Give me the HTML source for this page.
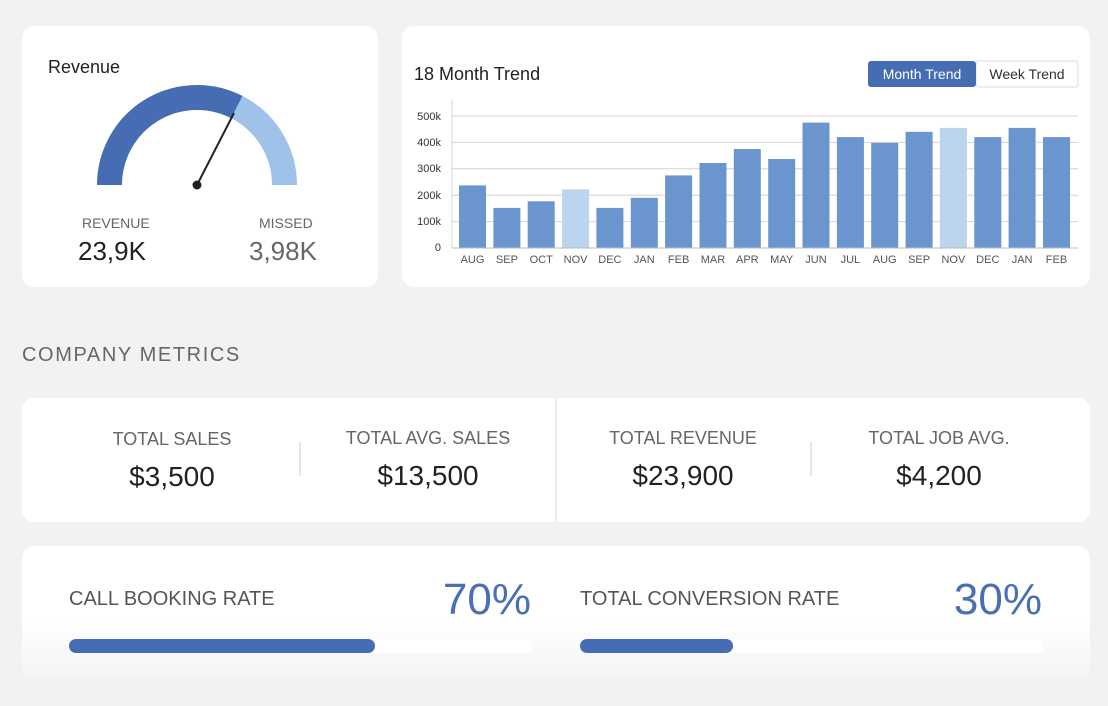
<!DOCTYPE html>
<html><head><meta charset="utf-8"><style>
html,body{margin:0;padding:0;background:#f2f2f2;}
svg{display:block;font-family:"Liberation Sans",sans-serif;}
</style></head><body>
<svg width="1108" height="706" viewBox="0 0 1108 706" xmlns="http://www.w3.org/2000/svg">
<defs>
<linearGradient id="bg" x1="0" y1="0" x2="0" y2="1">
<stop offset="0" stop-color="#ffffff"/><stop offset="0.55" stop-color="#ffffff"/><stop offset="1" stop-color="#f3f4f6"/>
</linearGradient>
</defs>
<rect width="1108" height="706" fill="#f2f2f2"/>
<!-- Revenue card -->
<rect x="22" y="26" width="356" height="261" rx="12" fill="#fff"/>
<text x="48" y="73" font-size="18" fill="#222">Revenue</text>
<path d="M109.5,185 A87.5,87.5 0 0 1 236.9,107.1" fill="none" stroke="#466db3" stroke-width="25"/>
<path d="M236.9,107.1 A87.5,87.5 0 0 1 284.5,185" fill="none" stroke="#9fc3e8" stroke-width="25"/>
<line x1="197" y1="185" x2="234" y2="113" stroke="#222" stroke-width="2"/>
<circle cx="197" cy="185" r="4.5" fill="#222"/>
<text x="82" y="228" font-size="14" fill="#666">REVENUE</text>
<text x="78" y="260" font-size="26" fill="#222">23,9K</text>
<text x="259" y="228" font-size="14" fill="#666">MISSED</text>
<text x="249" y="260" font-size="26" fill="#666">3,98K</text>
<!-- Trend card -->
<rect x="402" y="26" width="688" height="261" rx="12" fill="#fff"/>
<text x="414" y="80" font-size="18" fill="#222">18 Month Trend</text>
<rect x="976" y="61" width="102" height="26" rx="3" fill="#fff" stroke="#ddd"/>
<rect x="868" y="61" width="108" height="26" rx="3" fill="#466db3"/>
<text x="922" y="79" font-size="14" fill="#fff" text-anchor="middle">Month Trend</text>
<text x="1027" y="79" font-size="14" fill="#333" text-anchor="middle">Week Trend</text>
<g stroke="#d4d4d4" stroke-width="1">
<line x1="452" y1="116" x2="1078" y2="116"/><line x1="452" y1="142.4" x2="1078" y2="142.4"/>
<line x1="452" y1="168.8" x2="1078" y2="168.8"/><line x1="452" y1="195.2" x2="1078" y2="195.2"/>
<line x1="452" y1="221.6" x2="1078" y2="221.6"/><line x1="452" y1="100" x2="452" y2="248"/>
</g>
<g font-size="11" fill="#333" text-anchor="end">
<text x="441" y="120">500k</text><text x="441" y="146">400k</text><text x="441" y="172">300k</text>
<text x="441" y="199">200k</text><text x="441" y="225">100k</text><text x="441" y="251">0</text>
</g>
<g fill="#6b95cf">
<rect x="459" y="185.4" width="27" height="62.6"/>
<rect x="493.4" y="207.9" width="27" height="40.1"/>
<rect x="527.7" y="201.3" width="27" height="46.7"/>
<rect x="562.1" y="189.4" width="27" height="58.6" fill="#bcd5ef"/>
<rect x="596.4" y="207.9" width="27" height="40.1"/>
<rect x="630.8" y="197.8" width="27" height="50.2"/>
<rect x="665.1" y="175.4" width="27" height="72.6"/>
<rect x="699.5" y="163" width="27" height="85"/>
<rect x="733.8" y="149" width="27" height="99"/>
<rect x="768.2" y="159" width="27" height="89"/>
<rect x="802.5" y="122.6" width="27" height="125.4"/>
<rect x="836.9" y="137.1" width="27" height="110.9"/>
<rect x="871.2" y="142.9" width="27" height="105.1"/>
<rect x="905.6" y="131.8" width="27" height="116.2"/>
<rect x="939.9" y="127.9" width="27" height="120.1" fill="#bcd5ef"/>
<rect x="974.3" y="137.1" width="27" height="110.9"/>
<rect x="1008.6" y="127.9" width="27" height="120.1"/>
<rect x="1043" y="137.1" width="27" height="110.9"/>
</g>
<line x1="452" y1="248" x2="1078" y2="248" stroke="#bbb"/>
<g font-size="11" fill="#555" text-anchor="middle">
<text x="472.5" y="263">AUG</text><text x="506.9" y="263">SEP</text><text x="541.2" y="263">OCT</text>
<text x="575.6" y="263">NOV</text><text x="609.9" y="263">DEC</text><text x="644.3" y="263">JAN</text>
<text x="678.6" y="263">FEB</text><text x="713" y="263">MAR</text><text x="747.3" y="263">APR</text>
<text x="781.7" y="263">MAY</text><text x="816" y="263">JUN</text><text x="850.4" y="263">JUL</text>
<text x="884.7" y="263">AUG</text><text x="919.1" y="263">SEP</text><text x="953.4" y="263">NOV</text>
<text x="987.8" y="263">DEC</text><text x="1022.1" y="263">JAN</text><text x="1056.5" y="263">FEB</text>
</g>
<!-- Company metrics -->
<text x="22" y="361" font-size="20" fill="#666" letter-spacing="1.6">COMPANY METRICS</text>
<rect x="22" y="398" width="1068" height="124" rx="12" fill="#fff"/>
<line x1="556" y1="398" x2="556" y2="522" stroke="#ececec" stroke-width="2"/>
<line x1="300" y1="442" x2="300" y2="476" stroke="#ccc"/>
<line x1="811" y1="442" x2="811" y2="476" stroke="#ccc"/>
<g text-anchor="middle">
<g font-size="18" fill="#666">
<text x="172" y="445">TOTAL SALES</text><text x="428" y="444">TOTAL AVG. SALES</text>
<text x="683" y="444">TOTAL REVENUE</text><text x="939" y="444">TOTAL JOB AVG.</text>
</g>
<g font-size="28" fill="#222">
<text x="172" y="486">$3,500</text><text x="428" y="485">$13,500</text>
<text x="683" y="485">$23,900</text><text x="939" y="485">$4,200</text>
</g>
</g>
<!-- Rates -->
<rect x="22" y="546" width="1068" height="132" rx="12" fill="url(#bg)"/>
<text x="69" y="605" font-size="20" fill="#555">CALL BOOKING RATE</text>
<text x="531" y="614" font-size="44" fill="#4a6fb5" text-anchor="end">70%</text>
<text x="580" y="605" font-size="20" fill="#555">TOTAL CONVERSION RATE</text>
<text x="1042" y="614" font-size="44" fill="#4a6fb5" text-anchor="end">30%</text>
<rect x="69" y="639" width="463" height="14" rx="7" fill="#fff"/>
<rect x="69" y="639" width="306" height="14" rx="7" fill="#466db3"/>
<rect x="580" y="639" width="463" height="14" rx="7" fill="#fff"/>
<rect x="580" y="639" width="153" height="14" rx="7" fill="#466db3"/>
</svg>
</body></html>
